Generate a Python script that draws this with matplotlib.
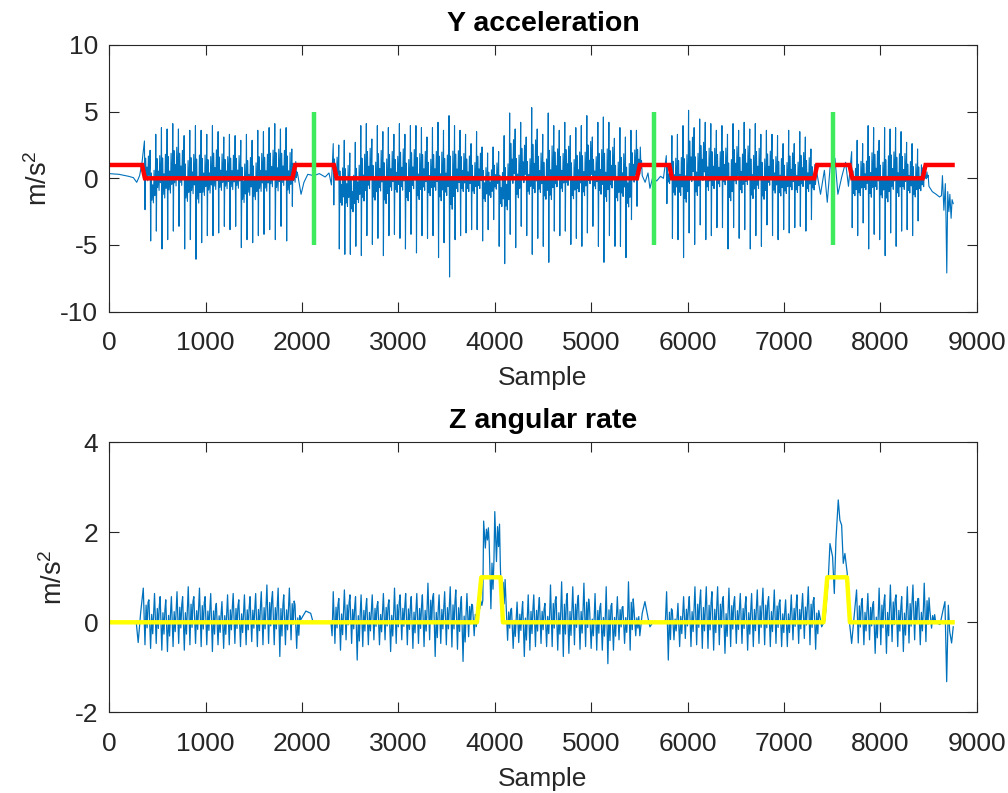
import matplotlib
matplotlib.use("Agg")
import matplotlib.pyplot as plt

# ---- step lines and markers ----
red_x = [0, 340, 370, 1900, 1930, 2330, 2360, 5475, 5505, 5810, 5840, 7315, 7345, 7680, 7710, 8440, 8470, 8750]
red_y = [1, 1, 0, 0, 1, 1, 0, 0, 1, 1, 0, 0, 1, 1, 0, 0, 1, 1]
green_x = [2127, 5655, 7505]
green_lo, green_hi = -5, 5
yellow_x = [0, 3815, 3860, 4060, 4085, 7410, 7450, 7655, 7685, 8750]
yellow_y = [0, 0, 1, 1, 0, 0, 1, 1, 0, 0]

# ---- Y acceleration: per-step peaks and troughs ----
acc_pre_x = [0, 100, 200, 250, 285, 315, 340]
acc_pre_y = [0.35, 0.3, 0.15, 0.05, -0.3, 0.2, 1.2]

acc_seg1 = (365, 58.8)
acc_seg1_peaks = [2.8, 2.1, 3.3, 3.8, 3.7, 4.1, 3.7, 3.2, 3.6, 3.95, 3.6, 3.3, 3.95, 3.5,
                  3.1, 3.3, 3.2, 2.85, 3.3, 2.85, 3.6, 3.5, 3.8, 4.1, 3.7, 3.8, 2.2]
acc_seg1_troughs = [-2.35, -4.7, -3.96, -5.3, -4.6, -3.96, -3.6, -5.3, -4.6, -6.07, -4.83, -4.3,
                    -4.3, -4.1, -3.6, -3.85, -3.6, -5.2, -4.6, -4.83, -4.3, -4.2, -3.85, -4.6,
                    -3.6, -4.7, -2.1]

acc_gap1_x = [1955, 1990, 2020, 2060, 2120, 2180, 2240, 2280, 2305]
acc_gap1_y = [0.3, -1.2, -0.3, 0.3, 0.2, 0.35, 0.1, 0.4, -0.5]

acc_seg2 = (2324, 57.2)
acc_seg2_peaks = [2.6, 2.5, 2.85, 1.9, 2.7, 3.95, 4.1, 2.95, 3.95, 3.5, 3.8, 3.3, 4.1, 3.3,
                  3.95, 3.95, 3.8, 3.1, 3.8, 4.2, 3.6, 4.7, 3.95, 3.6, 3.3, 2.6, 3.5, 2.35,
                  1.9, 2.35, 2.0, 3.2, 4.9, 3.7, 4.2, 3.1, 5.3, 3.7, 3.3, 4.9, 3.95, 3.6,
                  4.2, 3.2, 3.8, 3.95, 4.7, 3.1, 4.2, 4.6, 4.2, 3.0, 3.8, 3.1, 3.6, 3.6]
acc_seg2_troughs = [-2.0, -5.3, -5.7, -5.7, -5.1, -5.8, -4.3, -4.96, -4.5, -5.8, -4.3, -4.2,
                    -4.5, -5.3, -4.2, -5.6, -4.3, -4.5, -4.3, -5.95, -4.83, -7.4, -4.6, -4.3,
                    -4.1, -3.85, -3.85, -4.7, -3.85, -3.1, -5.1, -6.4, -4.2, -5.2, -3.6, -4.3,
                    -5.7, -4.5, -5.1, -6.3, -3.96, -4.3, -3.96, -4.96, -4.5, -5.1, -4.1, -3.6,
                    -5.1, -6.3, -4.3, -5.1, -5.1, -5.95, -3.1, -2.1]

acc_gap2_x = [5530, 5560, 5590, 5610, 5640, 5680, 5720, 5750]
acc_gap2_y = [0.2, -0.3, 0.4, -0.75, 0.1, -0.2, 0.15, 0.0]

acc_seg3 = (5780, 57.7)
acc_seg3_peaks = [1.7, 3.2, 3.3, 3.95, 5.1, 3.8, 4.45, 4.2, 4.1, 3.6, 3.95, 3.3, 4.1, 3.6,
                  4.2, 3.7, 4.1, 3.3, 3.6, 3.3, 3.2, 2.6, 3.6, 2.6, 3.5, 3.1, 2.2]
acc_seg3_troughs = [-1.9, -4.5, -4.6, -5.95, -4.1, -4.96, -3.5, -4.6, -4.3, -3.7, -3.7, -5.3,
                    -3.7, -4.5, -3.85, -5.3, -4.3, -5.1, -3.5, -4.3, -4.6, -3.85, -4.1, -3.7,
                    -3.6, -3.96, -3.1]

acc_gap3_x = [7340, 7380, 7420, 7450, 7480, 7530, 7560, 7600, 7640, 7670]
acc_gap3_y = [0.5, -1.2, 0.6, -1.8, 0.9, 1.5, -1.2, 0.1, 1.2, -0.6]

acc_seg4 = (7703, 57.0)
acc_seg4_peaks = [2.0, 2.85, 2.6, 3.95, 3.8, 2.85, 3.8, 3.7, 3.8, 3.5, 2.7, 2.6, 2.2, 0.8]
acc_seg4_troughs = [-3.7, -4.3, -3.35, -5.3, -4.2, -4.6, -5.8, -4.1, -5.1, -3.96, -3.85, -4.3,
                    -3.2, -0.63]

acc_tail_x = [8505, 8540, 8580, 8615, 8635, 8645, 8660, 8675, 8682, 8690, 8700, 8712, 8722,
              8735, 8745, 8757]
acc_tail_y = [-0.6, -1.0, -1.2, -1.4, -1.3, 0.2, -2.4, -0.4, -3.0, -7.1, -1.0, -2.5, -1.2,
              -3.0, -1.6, -1.9]

# step shape inside one period: (fraction of period, fraction of peak-trough range)
acc_shape_t = [0.1, 0.2, 0.32, 0.45, 0.58, 0.7, 0.82, 0.92]
acc_shape_v = [0.0, 0.75, 0.45, 0.62, 0.42, 0.78, 0.5, 0.6]

# ---- Z angular rate ----
gyr_pre_x = [0, 280, 300, 325]
gyr_pre_y = [0.0, 0.0, -0.45, 0.2]

gyr_seg1 = (353, 58.3)
gyr_seg1_peaks = [0.76, 0.50, 0.64, 0.57, 0.50, 0.57, 0.68, 0.57, 0.79, 0.57, 0.76, 0.57, 0.64,
                  0.42, 0.46, 0.61, 0.64, 0.50, 0.61, 0.57, 0.64, 0.68, 0.83, 0.68, 0.76, 0.61,
                  0.76, 0.39]
gyr_seg1_troughs = [-0.50, -0.58, -0.47, -0.62, -0.65, -0.54, -0.47, -0.62, -0.50, -0.47, -0.54,
                    -0.50, -0.65, -0.50, -0.58, -0.50, -0.47, -0.54, -0.50, -0.43, -0.54, -0.50,
                    -0.47, -0.50, -0.76, -0.50, -0.39, -0.58]

gyr_gap1_x = [1985, 2040, 2090, 2115, 2300, 2312]
gyr_gap1_y = [0.05, 0.25, 0.2, 0.0, 0.0, -0.3]

gyr_seg2 = (2324, 57.8)
gyr_seg2_peaks = [0.68, 0.53, 0.72, 0.61, 0.57, 0.61, 0.53, 0.61, 0.46, 0.64, 0.50, 0.76, 0.61,
                  0.64, 0.57, 0.64, 0.61, 0.87, 0.64, 0.61, 0.68, 0.79, 0.72, 0.57, 0.64,
                  0.38, 0.55, 2.25, 1.75, 2.46, 1.25, 0.5,
                  0.31, 0.45, 0.46, 0.61, 0.61, 0.55, 0.42, 0.83, 0.57, 0.90, 0.64, 0.79, 0.6,
                  0.87, 0.35, 0.64, 0.42, 0.79, 0.42, 0.57, 0.35, 0.90, 0.27]
gyr_seg2_troughs = [-0.47, -0.62, -0.39, -0.47, -0.84, -0.54, -0.50, -0.39, -0.50, -0.39, -0.65,
                    -0.47, -0.39, -0.50, -0.58, -0.47, -0.54, -0.39, -0.76, -0.47, -0.50, -0.55,
                    -0.60, -0.87, -0.32,
                    -0.3, 0.3, 1.65, 0.3, 1.35, 0.05, -0.4,
                    -0.58, -0.45, -0.76, -0.62, -0.54, -0.47, -0.54, -0.54, -0.62, -0.76, -0.69,
                    -0.5, -0.6,
                    -0.54, -0.58, -0.62, -0.62, -0.92, -0.62, -0.39, -0.47, -0.62, -0.3]

gyr_gap2_x = [5505, 5530, 5558, 5590, 5610, 5640, 5770]
gyr_gap2_y = [-0.3, 0.2, 0.46, 0.1, -0.1, 0.0, 0.0]

gyr_seg3 = (5783, 58.8)
gyr_seg3_peaks = [0.68, 0.27, 0.42, 0.57, 0.57, 0.79, 0.72, 0.79, 0.68, 0.79, 0.57, 0.76, 0.57,
                  0.64, 0.57, 0.64, 0.72, 0.76, 0.57, 0.72, 0.50, 0.50, 0.61, 0.61, 0.64, 0.79,
                  0.55]
gyr_seg3_troughs = [-0.84, -0.39, -0.54, -0.36, -0.54, -0.50, -0.58, -0.58, -0.62, -0.50, -0.69,
                    -0.54, -0.47, -0.47, -0.62, -0.54, -0.47, -0.50, -0.54, -0.47, -0.54, -0.54,
                    -0.39, -0.47, -0.36, -0.5, -0.6]

gyr_turn_x = [7392, 7426, 7460, 7478, 7505, 7523, 7540, 7564, 7581, 7599, 7616, 7633, 7657,
              7678, 7703]
gyr_turn_y = [-0.1, 0.05, 0.94, 1.75, 1.46, 0.64, 1.83, 2.72, 2.27, 2.16, 1.31, 1.53, 1.09,
              0.05, -0.47]

gyr_seg4 = (7754, 58.5)
gyr_seg4_peaks = [0.72, 0.53, 0.64, 0.46, 0.76, 0.61, 0.83, 0.61, 0.57, 0.79, 0.83, 0.53, 0.87,
                  0.27]
gyr_seg4_troughs = [-0.46, -0.5, -0.39, -0.69, -0.5, -0.69, -0.43, -0.54, -0.65, -0.46, -0.39,
                    -0.5, -0.43, -0.13]

gyr_tail_x = [8575, 8620, 8654, 8671, 8689, 8706, 8720, 8740, 8757]
gyr_tail_y = [0.0, -0.05, 0.3, 0.46, -1.32, 0.38, -0.2, -0.46, -0.1]

gyr_shape_t = [0.15, 0.3, 0.5, 0.68, 0.85]
gyr_shape_v = [0.5, 0.0, 0.7, 0.3, 0.75]

BLUE = "#0072BD"
INK = "#262626"


def steps(seg, peaks, troughs, shape_t, shape_v):
    """Line vertices for a run of steps: the peak, then the read shape of the period."""
    start, period = seg
    xs, ys = [], []
    for i, (p, t) in enumerate(zip(peaks, troughs)):
        t0 = start + i * period
        xs.append(t0)
        ys.append(p)
        for ft, fv in zip(shape_t, shape_v):
            xs.append(t0 + ft * period)
            ys.append(t + fv * (p - t))
    return xs, ys


def join(parts):
    xs, ys = [], []
    for px, py in parts:
        xs += list(px)
        ys += list(py)
    return xs, ys


def style_axes(ax, title, ylim, yticks):
    ax.set_xlim(0, 9000)
    ax.set_ylim(*ylim)
    ax.set_xticks(range(0, 9001, 1000))
    ax.set_yticks(yticks)
    ax.set_title(title, fontsize=20.5, fontweight="bold", color="black", pad=10)
    ax.set_xlabel("Sample", fontsize=19, color=INK, labelpad=8)
    ax.set_ylabel("m/s$^2$", fontsize=19.5, color=INK, labelpad=5)
    ax.tick_params(direction="in", top=True, right=True, length=7, width=0.8,
                   colors=INK, labelsize=19)
    ax.tick_params(axis="x", pad=14)
    ax.tick_params(axis="y", pad=8)
    for s in ax.spines.values():
        s.set_color(INK)
        s.set_linewidth(0.8)


def main():
    plt.rcParams["font.family"] = ["Liberation Sans", "DejaVu Sans"]
    plt.rcParams["mathtext.default"] = "regular"
    plt.rcParams["axes.unicode_minus"] = False

    fig = plt.figure(figsize=(10.08, 7.93), dpi=100)
    ax1 = fig.add_axes([0.1084, 0.6070, 0.8605, 0.3363])
    ax2 = fig.add_axes([0.1084, 0.1018, 0.8605, 0.3404])

    acc_x, acc_y = join([
        (acc_pre_x, acc_pre_y),
        steps(acc_seg1, acc_seg1_peaks, acc_seg1_troughs, acc_shape_t, acc_shape_v),
        (acc_gap1_x, acc_gap1_y),
        steps(acc_seg2, acc_seg2_peaks, acc_seg2_troughs, acc_shape_t, acc_shape_v),
        (acc_gap2_x, acc_gap2_y),
        steps(acc_seg3, acc_seg3_peaks, acc_seg3_troughs, acc_shape_t, acc_shape_v),
        (acc_gap3_x, acc_gap3_y),
        steps(acc_seg4, acc_seg4_peaks, acc_seg4_troughs, acc_shape_t, acc_shape_v),
        (acc_tail_x, acc_tail_y),
    ])
    ax1.plot(acc_x, acc_y, color=BLUE, lw=0.8)
    ax1.plot(red_x, red_y, color="red", lw=3.2, solid_joinstyle="miter")
    ax1.vlines(green_x, green_lo, green_hi, color="#3DEB5C", lw=3.2)
    style_axes(ax1, "Y acceleration", (-10, 10), [-10, -5, 0, 5, 10])

    gyr_x, gyr_y = join([
        (gyr_pre_x, gyr_pre_y),
        steps(gyr_seg1, gyr_seg1_peaks, gyr_seg1_troughs, gyr_shape_t, gyr_shape_v),
        (gyr_gap1_x, gyr_gap1_y),
        steps(gyr_seg2, gyr_seg2_peaks, gyr_seg2_troughs, gyr_shape_t, gyr_shape_v),
        (gyr_gap2_x, gyr_gap2_y),
        steps(gyr_seg3, gyr_seg3_peaks, gyr_seg3_troughs, gyr_shape_t, gyr_shape_v),
        (gyr_turn_x, gyr_turn_y),
        steps(gyr_seg4, gyr_seg4_peaks, gyr_seg4_troughs, gyr_shape_t, gyr_shape_v),
        (gyr_tail_x, gyr_tail_y),
    ])
    ax2.plot(gyr_x, gyr_y, color=BLUE, lw=0.9)
    ax2.plot(yellow_x, yellow_y, color="#FFFF00", lw=3.2)
    style_axes(ax2, "Z angular rate", (-2, 4), [-2, 0, 2, 4])

    fig.savefig("out.png", dpi=100)
    plt.close(fig)


if __name__ == "__main__":
    main()
